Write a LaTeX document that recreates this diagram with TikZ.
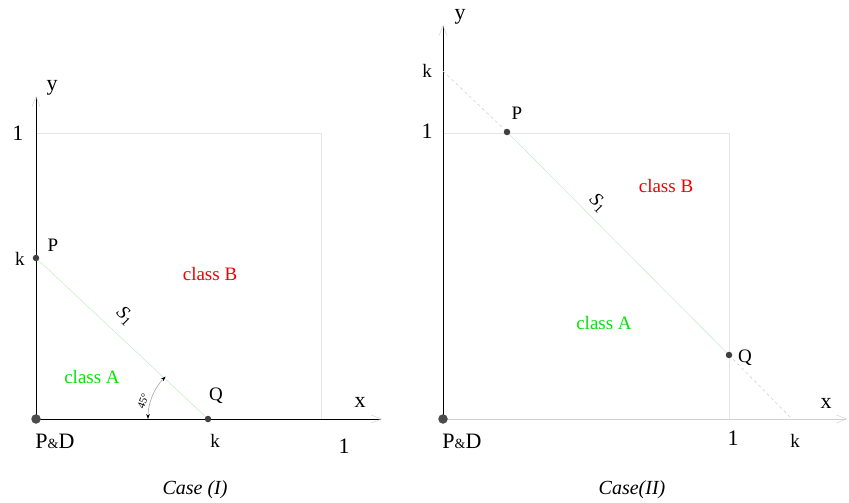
\documentclass[tikz,border=0pt]{standalone}
\usepackage{fontspec}
\setmainfont{Liberation Serif}
\newfontfamily\tms{Liberation Serif}
\usetikzlibrary{arrows.meta,backgrounds}
\definecolor{clsA}{RGB}{10,225,10}
\definecolor{clsB}{RGB}{240,0,0}
\definecolor{lineG}{RGB}{200,240,200}
\begin{document}
\begin{tikzpicture}[x=1pt,y=-1pt,
  sq/.style={draw=black!10, line width=0.8pt},
  axis/.style={draw=black, line width=1pt},
  faintaxis/.style={draw=black!18, line width=0.9pt},
  tipf/.style={-{Straight Barb[color=black!18,length=10pt,width=8pt,line width=0.5pt]}},
  dotn/.style={circle, fill=black!75, inner sep=0, minimum size=6.5pt},
  odot/.style={circle, fill=black!70, inner sep=0, minimum size=9.5pt},
  sepline/.style={draw=lineG, line width=0.6pt},
  dashline/.style={draw=black!18, line width=0.6pt, dashed},
  lbl/.style={inner sep=0, font=\tms\fontsize{19}{21}\selectfont},
  big/.style={inner sep=0, font=\tms\fontsize{22}{24}\selectfont},
  caselbl/.style={inner sep=0, font=\tms\fontsize{20}{22}\selectfont\itshape},
  slbl/.style={inner sep=0, font=\tms\fontsize{19}{21}\selectfont, rotate=-45}]
\useasboundingbox (0,0) rectangle (849,503);
% ---------------- Case I ----------------
\coordinate (O1) at (36,419);
\coordinate (Y1) at (36,96);
\coordinate (X1) at (382,419);
\coordinate (T1) at (36,133);
\coordinate (C1) at (321,133);
\coordinate (R1) at (321,419);
\coordinate (A1) at (148,419);
\node[odot] (PD1) at (O1) {};
\node[dotn] (P1) at (36,258) {};
\node[dotn] (Q1) at (208,419) {};
\begin{scope}[on background layer]
\draw[sq] (T1) -- (C1) -- (R1);
\draw[axis, tipf] (O1) -- (Y1);
\draw[axis, tipf] (O1) -- (X1);
\draw[sepline] (P1.center) -- (Q1.center);
\end{scope}
\draw[black!35, line width=0.6pt, {Stealth[black,length=5pt,width=3.5pt]}-{Stealth[black,length=5pt,width=3.5pt]}] (A1) arc[start angle=180, end angle=225, radius=60];
\node[big] (y1) at (52,88) {y};
\node[big] (one1y) at (18,133) {1};
\node[lbl] (k1y) at (20,259) {k};
\node[lbl] (p1) at (53,245) {P};
\node[lbl, text=clsB] (cb1) at (210,274) {class B};
\node[slbl] (s1) at (125,316) {\textit{S}\textsubscript{1}};
\node[lbl, text=clsA] (ca1) at (92,377) {class A};
\node[inner sep=0, font=\tms\fontsize{11}{12}\selectfont, rotate=70] (ang1) at (143,401) {45°};
\node[lbl] (q1) at (216,396) {Q};
\node[big] (x1) at (360,402) {x};
\node[big] (pd1) at (55,441) {P{\fontsize{14}{14}\selectfont\&}D};
\node[lbl] (k1x) at (215,441) {k};
\node[big] (one1x) at (344,446) {1};
\node[caselbl] (case1) at (195,490) {Case (I)};
% ---------------- Case II ----------------
\coordinate (O2) at (443,419);
\coordinate (Y2) at (443,25);
\coordinate (X2) at (847,419);
\coordinate (T2) at (443,133);
\coordinate (C2) at (729,133);
\coordinate (R2) at (729,419);
\coordinate (K2y) at (443,71);
\coordinate (K2x) at (792,419);
\node[odot] (PD2) at (O2) {};
\node[dotn] (P2) at (507,132) {};
\node[dotn] (Q2) at (729,355) {};
\begin{scope}[on background layer]
\draw[sq] (T2) -- (C2) -- (R2);
\draw[faintaxis, tipf] (O2) -- (X2);
\draw[axis, tipf] (O2) -- (Y2);
\draw[dashline] (K2y) -- (P2.center);
\draw[sepline] (P2.center) -- (Q2.center);
\draw[dashline] (Q2.center) -- (K2x);
\end{scope}
\node[big] (y2) at (460,17) {y};
\node[big] (one2y) at (427,131) {1};
\node[lbl] (k2y) at (427,71) {k};
\node[lbl] (p2) at (517,113) {P};
\node[lbl, text=clsB] (cb2) at (666,186) {class B};
\node[slbl] (s2) at (598,203) {\textit{S}\textsubscript{1}};
\node[lbl, text=clsA] (ca2) at (604,323) {class A};
\node[lbl] (q2) at (745,358) {Q};
\node[big] (x2) at (826,403) {x};
\node[big] (pd2) at (462,441) {P{\fontsize{14}{14}\selectfont\&}D};
\node[big] (one2x) at (733,438) {1};
\node[lbl] (k2x) at (795,441) {k};
\node[caselbl] (case2) at (632,490) {Case(II)};
\end{tikzpicture}
\end{document}
